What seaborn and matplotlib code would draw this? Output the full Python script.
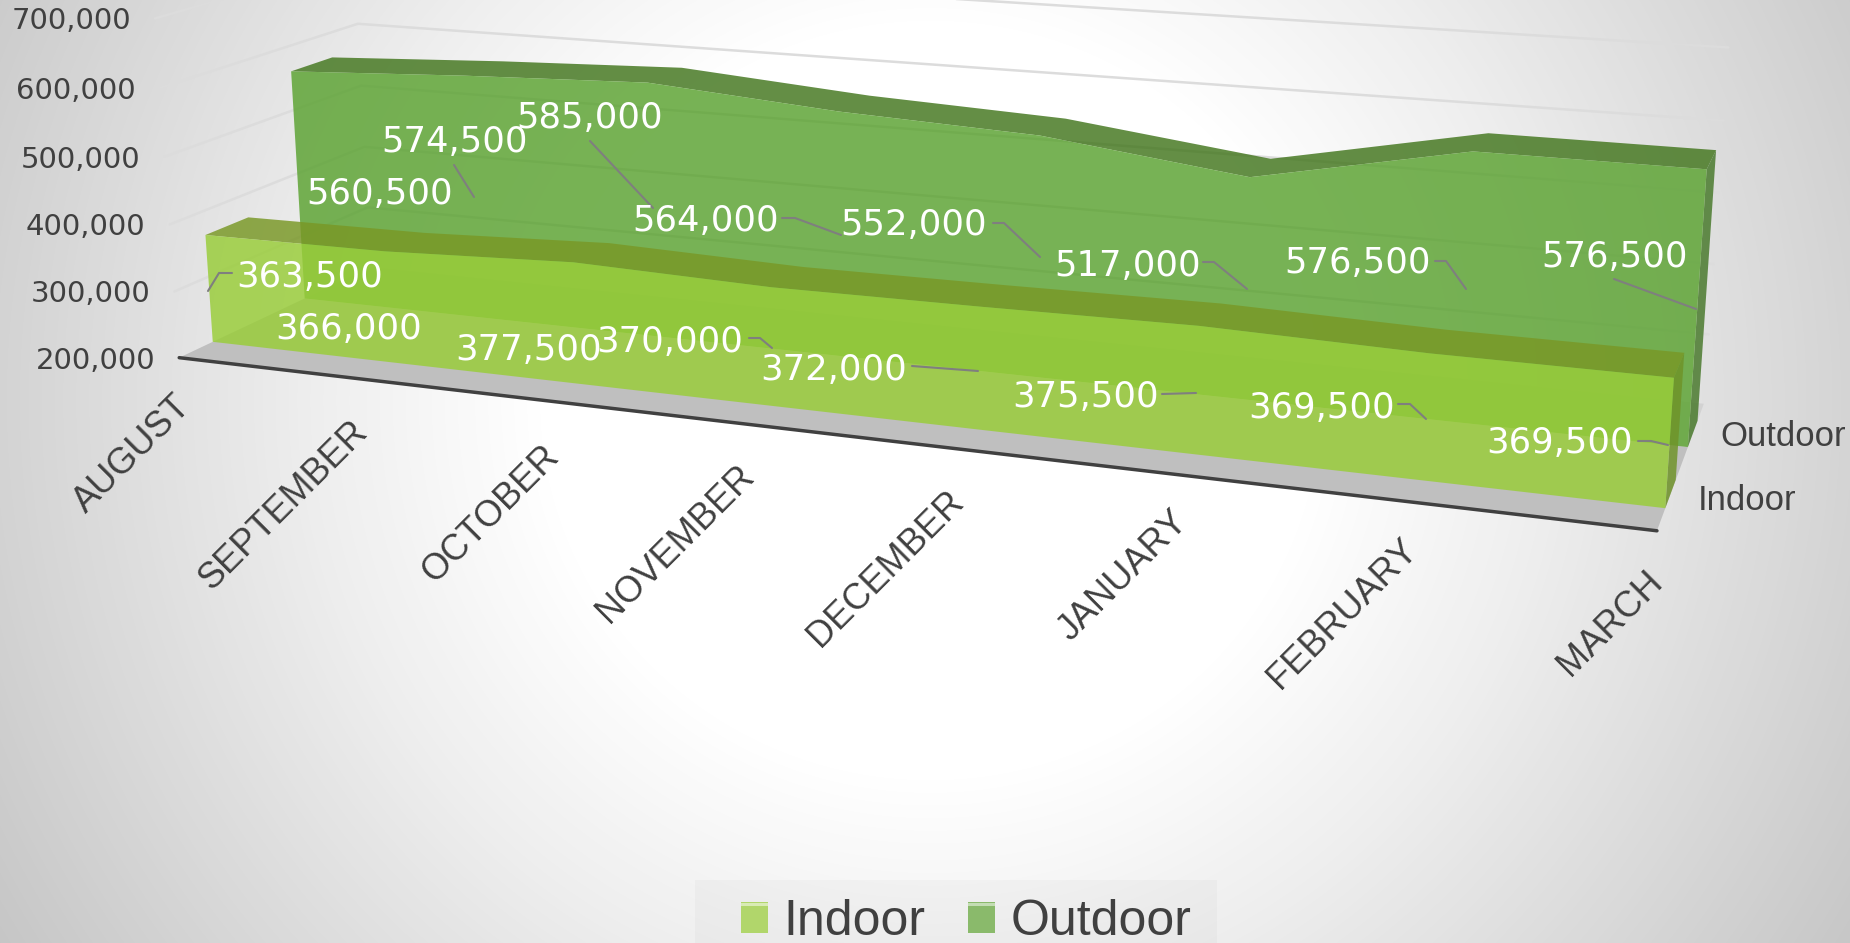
import numpy as np
import pandas as pd
import seaborn as sns
import matplotlib.pyplot as plt
from matplotlib.colors import LinearSegmentedColormap
from matplotlib.patches import Patch, Polygon, Rectangle

# chart values
months = ["AUGUST", "SEPTEMBER", "OCTOBER", "NOVEMBER", "DECEMBER", "JANUARY", "FEBRUARY", "MARCH"]
indoor = [363500, 366000, 377500, 370000, 372000, 375500, 369500, 369500]
outdoor = [560500, 574500, 585000, 564000, 552000, 517000, 576500, 576500]
y_ticks = [200000, 300000, 400000, 500000, 600000, 700000]

# depth of each ribbon, 0 = front of floor, 1 = back wall
indoor_depth = (0.16, 0.37)
outdoor_depth = (0.63, 0.85)

# where the labels sit, in pixels of the 1850x943 picture
indoor_label_pos = [(310, 275), (349, 327), (529, 348), (670, 340), (834, 368), (1086, 395), (1322, 406), (1560, 441)]
outdoor_label_pos = [(380, 192), (455, 140), (590, 116), (706, 219), (914, 223), (1128, 264), (1358, 261), (1615, 255)]
month_label_pos = [(132, 454), (283, 505), (491, 514), (676, 544), (886, 569), (1123, 576), (1343, 614), (1610, 623)]
leaders = [
    [(208, 291), (219, 273), (232, 273)],
    [(454, 165), (474, 197)],
    [(590, 141), (653, 208)],
    [(782, 218), (795, 218), (841, 235)],
    [(993, 223), (1004, 223), (1040, 257)],
    [(1203, 262), (1214, 262), (1247, 289)],
    [(1435, 261), (1446, 261), (1466, 289)],
    [(1614, 279), (1696, 309)],
    [(749, 338), (760, 338), (772, 348)],
    [(912, 366), (978, 371)],
    [(1162, 394), (1196, 393)],
    [(1398, 404), (1410, 404), (1426, 419)],
    [(1638, 441), (1651, 441), (1668, 445)],
]

# camera calibration: (month index, value, depth) -> pixel
cal_world = [
    (0, 200000, 0), (7, 200000, 0), (0, 700000, 0), (0, 600000, 0), (0, 400000, 0),
    (0, 600000, 1), (7, 600000, 1), (7, 200000, 1), (7, 400000, 1),
    (0, 363500, .16), (7, 369500, .16), (0, 200000, .16), (7, 200000, .16),
    (0, 560500, .63), (7, 576500, .63), (7, 200000, .63), (0, 200000, .63),
    (7, 576500, .85), (0, 560500, .85), (0, 363500, .37), (7, 369500, .37),
    (2, 585000, .63), (5, 517000, .63), (6, 576500, .63),
    (2, 585000, .85), (5, 517000, .85), (6, 576500, .85),
]
cal_pixel = [
    (179, 357), (1658, 530), (154, 20), (160, 88), (171, 224),
    (358, 24), (1724, 122), (1703, 405), (1714, 265),
    (205, 236), (1674, 377), (212, 343), (1665, 508),
    (295, 70), (1707, 167), (1689, 445), (306, 297),
    (1716, 151), (330, 58), (246, 219), (1682, 357),
    (649, 80), (1252, 175), (1472, 150),
    (680, 68), (1270, 159), (1488, 134),
]


def world(x, v, z):
    return x, (v - 200000) / 100000, z


rows = []
for (x, v, z), (u, w) in zip(cal_world, cal_pixel):
    a = world(x, v, z)
    rows.append([a[0], a[1], a[2], 1, 0, 0, 0, 0, -u * a[0], -u * a[1], -u * a[2]])
    rows.append([0, 0, 0, 0, a[0], a[1], a[2], 1, -w * a[0], -w * a[1], -w * a[2]])
rhs = np.array(cal_pixel, dtype=float).ravel()
cam = np.linalg.lstsq(np.array(rows, dtype=float), rhs, rcond=None)[0]
cam = np.append(cam, 1).reshape(3, 4)


def project(x, v, z):
    h = cam @ np.array([*world(x, v, z), 1.0])
    return h[0] / h[2], h[1] / h[2]


sns.set_theme(style="white")
plt.rcParams["font.family"] = ["DejaVu Sans"]
fig = plt.figure(figsize=(18.5, 9.43), dpi=100)
ax = fig.add_axes([0, 0, 1, 1])

# background
yy, xx = np.mgrid[0:943, 0:1850]
r = np.sqrt(((xx - 930) / 925) ** 2 + ((yy - 400) / 900) ** 2)
grad = LinearSegmentedColormap.from_list(
    "bg", [(0, "#ffffff"), (0.42 / 1.2, "#ffffff"), (0.67 / 1.2, "#eeeeee"), (1 / 1.2, "#d4d4d4"), (1, "#c4c4c4")])
ax.imshow(r, cmap=grad, vmin=0, vmax=1.2, extent=(0, 1850, 943, 0), aspect="auto", zorder=0)

# faint box behind the legend
ax.add_patch(Rectangle((695, 880), 522, 63, facecolor="#000000", alpha=0.025, edgecolor="none", zorder=1))

# gridlines on the two walls
grid = []
for i, v in enumerate(y_ticks[1:]):
    grid.append((i, *project(0, v, 0)))
    grid.append((i, *project(0, v, 1)))
    grid.append((i, *project(7, v, 1)))
grid = pd.DataFrame(grid, columns=["line", "px", "py"])
sns.lineplot(data=grid, x="px", y="py", units="line", estimator=None, sort=False,
             color="#dcdcdc", linewidth=1.8, legend=False, ax=ax, zorder=1)

# floor, fading towards the back
floor = [project(0, 200000, 0), project(7, 200000, 0), project(7, 200000, .63), project(0, 200000, .63)]
floor_back = [project(0, 200000, .63), project(7, 200000, .63), project(7, 200000, 1), project(0, 200000, 1)]
ax.add_patch(Polygon(floor_back, closed=True, facecolor="#d2d2d2", edgecolor="none", zorder=2))
ax.add_patch(Polygon(floor, closed=True, facecolor="#bfbfbf", edgecolor="none", zorder=2))
edge = pd.DataFrame([project(0, 200000, 0), project(7, 200000, 0)], columns=["px", "py"])
sns.lineplot(data=edge, x="px", y="py", sort=False, color="#404040", linewidth=2.5, ax=ax, zorder=3)


def ribbon(values, depth, front, top, side, z):
    zf, zb = depth
    n = range(len(values))
    top_f = [project(i, values[i], zf) for i in n]
    top_b = [project(i, values[i], zb) for i in n]
    base_f = [project(7, 200000, zf), project(0, 200000, zf)]
    last = len(values) - 1
    ax.add_patch(Polygon(top_f + top_b[::-1], closed=True, facecolor=top, edgecolor="none", alpha=0.83, zorder=z))
    ax.add_patch(Polygon([top_f[last], top_b[last], project(7, 200000, zb), base_f[0]], closed=True,
                         facecolor=side, edgecolor="none", alpha=0.83, zorder=z))
    ax.add_patch(Polygon(top_f + base_f, closed=True, facecolor=front, edgecolor="none", alpha=0.83, zorder=z + 1))


ribbon(outdoor, outdoor_depth, "#5ca332", "#44771f", "#47782a", 4)
ribbon(indoor, indoor_depth, "#99cd39", "#799826", "#6f9328", 6)

# leader lines and value labels
for pts in leaders:
    ax.plot(*zip(*pts), color="#7f7f7f", linewidth=1.5, zorder=8)
for vals, pos in ((indoor, indoor_label_pos), (outdoor, outdoor_label_pos)):
    for v, (px, py) in zip(vals, pos):
        ax.text(px, py + 2, f"{v:,}", color="white", fontsize=25.5, ha="center", va="center", zorder=9)

# value axis labels
for v in y_ticks:
    px, py = project(0, v, 0)
    ax.text(px - 24, py + 3, f"{v:,}", color="#404040", fontsize=21, ha="right", va="center", zorder=9)

# month labels
for m, (px, py) in zip(months, month_label_pos):
    ax.text(px, py, m, color="#404040", fontsize=26, rotation=45, rotation_mode="anchor",
            ha="center", va="center", family="Liberation Sans", zorder=9)

# series names at the right
ax.text(1720, 437, "Outdoor", color="#404040", fontsize=25, va="center", family="Liberation Sans", zorder=9)
ax.text(1698, 501, "Indoor", color="#404040", fontsize=25, va="center", family="Liberation Sans", zorder=9)

swatches = ["#b1d66b", "#8aba6b"]
handles = [Patch(facecolor=swatches[0], edgecolor="none", label="Indoor"),
           Patch(facecolor=swatches[1], edgecolor="none", label="Outdoor")]
leg = ax.legend(handles=handles, ncols=2, loc="center", bbox_to_anchor=(966, 922), bbox_transform=ax.transData,
                frameon=False, labelcolor="#404040", prop={"family": "Liberation Sans", "size": 36},
                handlelength=0.54, handleheight=0.58, handletextpad=0.32, columnspacing=0.84)

ax.set_xlim(0, 1850)
ax.set_ylim(943, 0)
ax.axis("off")

# light strip across the top of each legend swatch
fig.canvas.draw()
for p, c in zip(leg.get_patches(), ["#d9ebb5", "#c3ddb3"]):
    bb = p.get_window_extent()
    ax.add_patch(Rectangle((bb.x0, 943 - bb.y1 + 1), bb.width, 3, facecolor=c, edgecolor="none", zorder=10))

fig.savefig("out.png", dpi=100)
